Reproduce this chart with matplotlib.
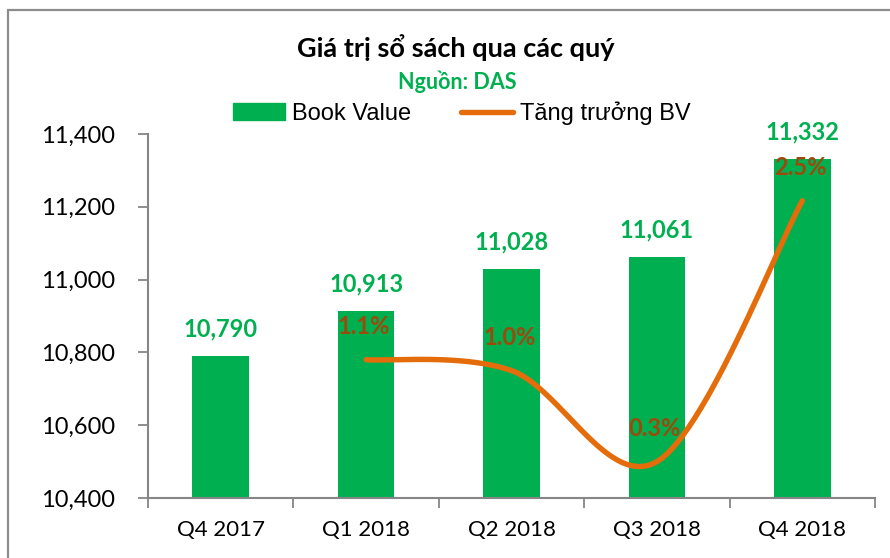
import matplotlib.pyplot as plt
import numpy as np
from matplotlib.patches import Rectangle, Patch
from matplotlib.lines import Line2D

quarters = ['Q4 2017', 'Q1 2018', 'Q2 2018', 'Q3 2018', 'Q4 2018']
book_value = [10790, 10913, 11028, 11061, 11332]
growth = [1.14, 1.05, 0.30, 2.45]   # % q/q, starting Q1 2018
growth_labels = ['1.1%', '1.0%', '0.3%', '2.5%']

green = '#00B050'
orange = '#E46C0A'
brown = '#9C4A0C'
grey = '#868686'

plt.rcParams['font.family'] = ['Lato', 'DejaVu Sans']


def smooth(xs, ys, n=60):
    # excel-like smoothed line (cubic bezier through the points)
    pts = np.column_stack([xs, ys]).astype(float)
    ext = np.vstack([pts[0], pts, pts[-1]])
    t = np.linspace(0, 1, n)[:, None]
    segs = []
    for i in range(len(pts) - 1):
        p0, p1, p2, p3 = ext[i], ext[i + 1], ext[i + 2], ext[i + 3]
        c1 = p1 + (p2 - p0) / 6
        c2 = p2 - (p3 - p1) / 6
        segs.append((1 - t)**3 * p1 + 3 * (1 - t)**2 * t * c1 + 3 * (1 - t) * t**2 * c2 + t**3 * p2)
    return np.vstack(segs)


fig = plt.figure(figsize=(8.9, 5.58), dpi=100)
ax = fig.add_axes([148 / 890, 1 - 498 / 558, 727 / 890, 364 / 558])

x = np.arange(len(quarters))
ax.bar(x, book_value, width=0.39, color=green, zorder=2)
ax.set_xlim(-0.5, 4.5)
ax.set_ylim(10400, 11400)
ax.set_yticks(np.arange(10400, 11401, 200))
ax.yaxis.set_major_formatter(lambda v, p: f'{v:,.0f}')
ax.set_xticks(x)
ax.set_xticklabels(quarters)
ax.set_xticks(np.arange(-0.5, 4.6, 1), minor=True)
ax.tick_params(axis='x', which='major', length=0, pad=16, labelsize=16)
ax.tick_params(axis='x', which='minor', length=7, color=grey, width=1.3)
ax.tick_params(axis='y', length=7, color=grey, width=1.3, labelsize=17, pad=17)
for s in ['top', 'right']:
    ax.spines[s].set_visible(False)
for s in ['left', 'bottom']:
    ax.spines[s].set_color(grey)
    ax.spines[s].set_linewidth(1.5)

for xi, v in zip(x, book_value):
    ax.annotate(f'{v:,}', (xi, v), xytext=(0, 27), textcoords='offset pixels',
                ha='center', va='center', fontsize=17, fontweight='bold', color=green)

ax2 = ax.twinx()
ax2.set_ylim(0, 3)
ax2.axis('off')
gx = x[1:]
curve = smooth(gx, growth)
ax2.plot(curve[:, 0], curve[:, 1], color=orange, lw=3.9, solid_capstyle='round', zorder=3)
for xi, g, lab in zip(gx, growth, growth_labels):
    ax2.annotate(lab, (xi, g), xytext=(-2, 33), textcoords='offset pixels',
                 ha='center', va='center', fontsize=17, fontweight='bold', color=brown)

fig.text(456 / 890, 1 - 48 / 558, 'Giá trị sổ sách qua các quý', ha='center', va='center',
         fontsize=19.5, fontweight='bold')
fig.text(457 / 890, 1 - 82 / 558, 'Nguồn: DAS', ha='center', va='center',
         fontsize=15.5, fontweight='bold', color=green)

handles = [Patch(color=green), Line2D([], [], color=orange, lw=3.9, solid_capstyle='round')]
fig.legend(handles, ['Book Value', 'Tăng trưởng BV'], loc='center left',
           bbox_to_anchor=(233 / 890, 1 - 113 / 558), ncol=2, frameon=False,
           prop={'family': 'Liberation Sans', 'size': 17}, handlelength=2.2,
           handletextpad=0.3, columnspacing=2.1, borderaxespad=0, borderpad=0)

fig.add_artist(Rectangle((8 / 890, -0.05), 1.0, 1.05 - 10 / 558, transform=fig.transFigure,
                         fill=False, ec='#8c8c8c', lw=1.6))

fig.savefig('out.png', dpi=100)
